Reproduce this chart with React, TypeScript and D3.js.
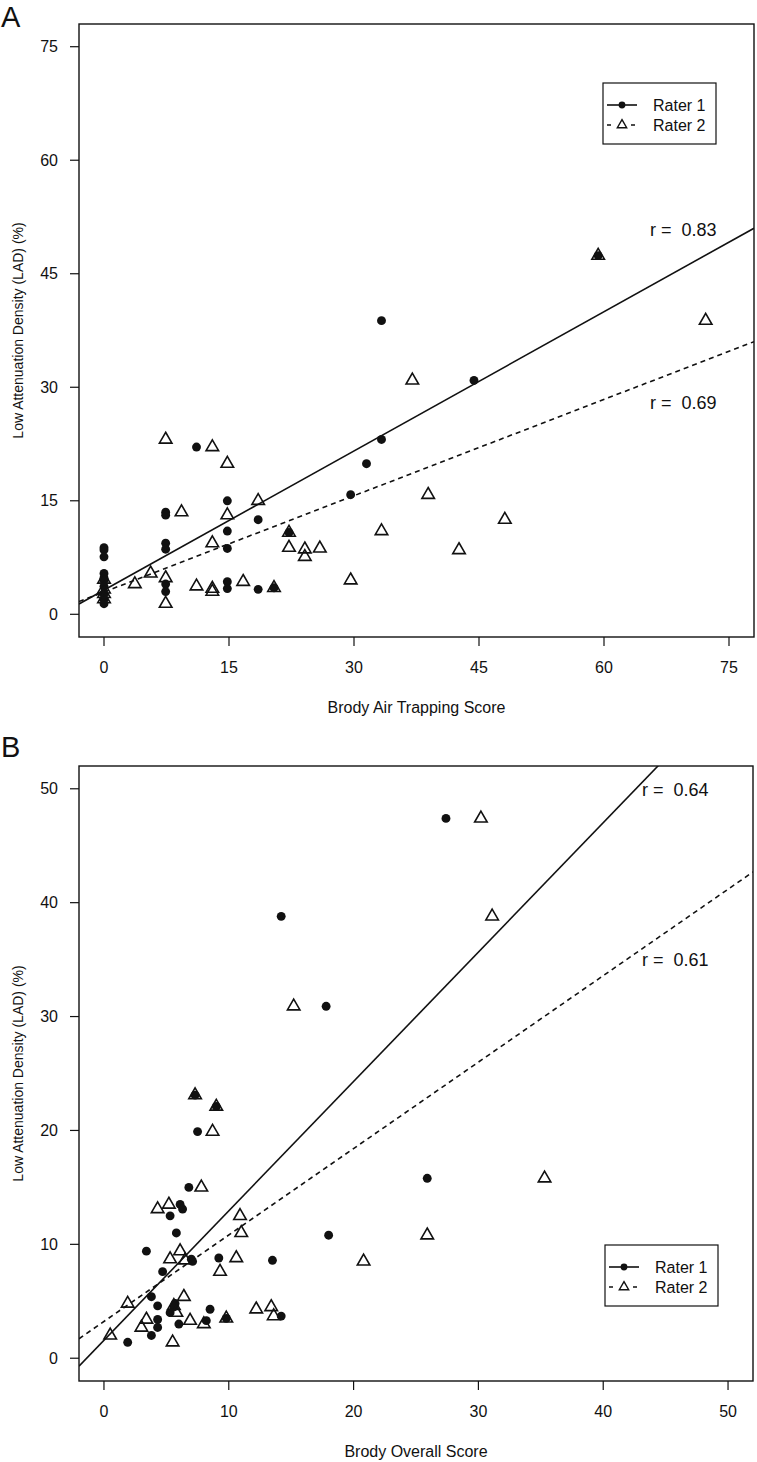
import React from "react";
import * as d3 from "d3";

// ---- data ----
const lad = [47.4, 38.8, 30.9, 23.1, 22.1, 19.9, 15.8, 15.0, 13.5, 13.1, 12.5, 11.0, 10.8, 9.4, 8.8, 8.7, 8.6, 8.5, 7.6, 5.4, 4.8, 4.6, 4.5, 4.3, 4.0, 3.7, 3.5, 3.4, 3.3, 3.0, 2.7, 2.0, 1.4];
const airR1 = [59.3, 33.3, 44.4, 33.3, 11.1, 31.5, 29.6, 14.8, 7.4, 7.4, 18.5, 14.8, 22.2, 7.4, 0, 14.8, 7.4, 0, 0, 0, 0, 0, 0, 14.8, 7.4, 0, 20.4, 14.8, 18.5, 7.4, 0, 0, 0];
const airR2 = [59.3, 72.2, 37.0, 7.4, 13.0, 14.8, 38.9, 18.5, 9.3, 14.8, 48.1, 33.3, 22.2, 13.0, 22.2, 25.9, 24.1, 42.6, 24.1, 5.6, 7.4, 0, 29.6, 16.7, 3.7, 11.1, 20.4, 13.0, 0, 13.0, 0, 0, 7.4];
const overallR1 = [27.4, 14.2, 17.8, 7.3, 9.0, 7.5, 25.9, 6.8, 6.1, 6.3, 5.3, 5.8, 18.0, 3.4, 9.2, 7.0, 13.5, 7.1, 4.7, 3.8, 5.7, 4.3, 5.6, 8.5, 5.3, 14.2, 9.8, 4.3, 8.2, 6.0, 4.3, 3.8, 1.9];
const overallR2 = [30.2, 31.1, 15.2, 7.3, 9.0, 8.7, 35.3, 7.8, 5.2, 4.3, 10.9, 11.0, 25.9, 6.1, 10.6, 5.3, 6.5, 20.8, 9.3, 6.4, 1.9, 5.6, 13.4, 12.2, 5.8, 13.6, 9.8, 3.4, 6.9, 8.0, 3.0, 0.5, 5.5];

const airTicks = [0, 15, 30, 45, 60, 75];
const overallTicks = [0, 10, 20, 30, 40, 50];

// regression fits: [intercept, slope]
const fitAirR1 = [3.2, 0.613];
const fitAirR2 = [2.95, 0.424];
const fitOverallR1 = [1.58, 1.136];
const fitOverallR2 = [3.23, 0.759];

const rLabelsAir = ["r =  0.83", "r =  0.69"];
const rLabelsOverall = ["r =  0.64", "r =  0.61"];
const seriesNames = ["Rater 1", "Rater 2"];
const yTitle = "Low Attenuation Density (LAD) (%)";

const FONT = "'Liberation Sans', Arial, Helvetica, sans-serif";
const INK = "#111";

type PanelProps = {
  id: string;
  letter: string;
  letterY: number;
  box: [number, number, number, number]; // x0, x1, y0, y1
  xDomain: [number, number];
  yDomain: [number, number];
  ticks: number[];
  r1x: number[];
  r2x: number[];
  fit1: number[];
  fit2: number[];
  rLabels: string[];
  rPos: [number, number][];
  legendPos: [number, number];
  xTitle: string;
};

function Panel(p: PanelProps) {
  const [x0, x1, y0, y1] = p.box;
  const x = d3.scaleLinear().domain(p.xDomain).range([x0, x1]);
  const y = d3.scaleLinear().domain(p.yDomain).range([y1, y0]);
  const circle = d3.symbol(d3.symbolCircle, 62)() as string;
  const tri = d3.symbol(d3.symbolTriangle, 68)() as string;
  const smallCircle = d3.symbol(d3.symbolCircle, 36)() as string;
  const smallTri = d3.symbol(d3.symbolTriangle, 38)() as string;
  const fitLine = (f: number[]) =>
    d3.line()(p.xDomain.map((v) => [x(v), y(f[0] + f[1] * v)] as [number, number])) as string;
  const [lx, ly] = p.legendPos;
  const midY = (y0 + y1) / 2;
  const midX = (x0 + x1) / 2;
  return (
    <g>
      <defs>
        <clipPath id={`clip-${p.id}`}>
          <rect x={x0} y={y0} width={x1 - x0} height={y1 - y0} />
        </clipPath>
      </defs>
      <text x={1} y={p.letterY} fontSize={29} fontFamily={FONT} fill={INK}>
        {p.letter}
      </text>
      {/* y axis */}
      {p.ticks.map((t) => (
        <g key={"y" + t}>
          <line x1={x0 - 9} x2={x0} y1={y(t)} y2={y(t)} stroke={INK} strokeWidth={1.2} />
          <text x={58} y={y(t) + 5.7} textAnchor="end" fontSize={16} fontFamily={FONT} fill={INK}>
            {t}
          </text>
        </g>
      ))}
      {/* x axis */}
      {p.ticks.map((t) => (
        <g key={"x" + t}>
          <line x1={x(t)} x2={x(t)} y1={y1} y2={y1 + 9} stroke={INK} strokeWidth={1.2} />
          <text x={x(t)} y={y1 + 36} textAnchor="middle" fontSize={16} fontFamily={FONT} fill={INK}>
            {t}
          </text>
        </g>
      ))}
      <text x={midX} y={y1 + 76} textAnchor="middle" fontSize={16} fontFamily={FONT} fill={INK}>
        {p.xTitle}
      </text>
      <text
        transform={`translate(23,${midY}) rotate(-90)`}
        textAnchor="middle"
        fontSize={14}
        fontFamily={FONT}
        fill={INK}
      >
        {yTitle}
      </text>
      {/* points */}
      {p.r1x.map((v, i) => (
        <path key={"c" + i} d={circle} transform={`translate(${x(v)},${y(lad[i])})`} fill={INK} />
      ))}
      {p.r2x.map((v, i) => (
        <path
          key={"t" + i}
          d={tri}
          transform={`translate(${x(v)},${y(lad[i])})`}
          fill="none"
          stroke={INK}
          strokeWidth={1.6}
        />
      ))}
      {/* regression lines */}
      <g clipPath={`url(#clip-${p.id})`}>
        <path d={fitLine(p.fit1)} fill="none" stroke={INK} strokeWidth={1.6} />
        <path d={fitLine(p.fit2)} fill="none" stroke={INK} strokeWidth={1.6} strokeDasharray="5,4" />
      </g>
      {/* r labels */}
      {p.rLabels.map((s, i) => (
        <text
          key={"r" + i}
          x={p.rPos[i][0]}
          y={p.rPos[i][1]}
          fontSize={18}
          fontFamily={FONT}
          fill={INK}
          xmlSpace="preserve"
          style={{ whiteSpace: "pre" }}
        >
          {s}
        </text>
      ))}
      {/* legend */}
      <rect x={lx} y={ly} width={113} height={61} fill="white" stroke={INK} strokeWidth={1.2} />
      <line x1={lx + 4} x2={lx + 34} y1={ly + 22} y2={ly + 22} stroke={INK} strokeWidth={1.6} />
      <path d={smallCircle} transform={`translate(${lx + 19},${ly + 22})`} fill={INK} />
      <line
        x1={lx + 4}
        x2={lx + 34}
        y1={ly + 42}
        y2={ly + 42}
        stroke={INK}
        strokeWidth={1.6}
        strokeDasharray="4,4"
      />
      <rect x={lx + 12} y={ly + 34} width={14} height={12} fill="white" />
      <path
        d={smallTri}
        transform={`translate(${lx + 19},${ly + 42})`}
        fill="none"
        stroke={INK}
        strokeWidth={1.4}
      />
      {seriesNames.map((s, i) => (
        <text key={s} x={lx + 50} y={ly + 28 + i * 20} fontSize={16} fontFamily={FONT} fill={INK}>
          {s}
        </text>
      ))}
      {/* box */}
      <rect x={x0} y={y0} width={x1 - x0} height={y1 - y0} fill="none" stroke={INK} strokeWidth={1.4} />
    </g>
  );
}

export default function App() {
  return (
    <svg
      width={757}
      height={1462}
      viewBox="0 0 757 1462"
      style={{ position: "absolute", left: 0, top: 0, background: "white" }}
    >
      <rect x={0} y={0} width={757} height={1462} fill="white" />
      <Panel
        id="a"
        letter="A"
        letterY={27}
        box={[79, 754, 24, 637]}
        xDomain={[-3, 78]}
        yDomain={[-3, 78]}
        ticks={airTicks}
        r1x={airR1}
        r2x={airR2}
        fit1={fitAirR1}
        fit2={fitAirR2}
        rLabels={rLabelsAir}
        rPos={[
          [650, 236],
          [650, 409],
        ]}
        legendPos={[603, 83]}
        xTitle="Brody Air Trapping Score"
      />
      <Panel
        id="b"
        letter="B"
        letterY={757}
        box={[79, 753, 766, 1381]}
        xDomain={[-2, 52]}
        yDomain={[-2, 52]}
        ticks={overallTicks}
        r1x={overallR1}
        r2x={overallR2}
        fit1={fitOverallR1}
        fit2={fitOverallR2}
        rLabels={rLabelsOverall}
        rPos={[
          [642, 796],
          [642, 966],
        ]}
        legendPos={[605, 1245]}
        xTitle="Brody Overall Score"
      />
    </svg>
  );
}
